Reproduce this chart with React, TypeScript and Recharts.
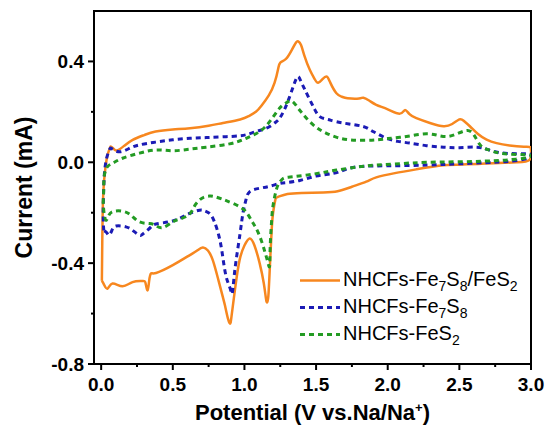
import React from 'react';
import { LineChart, Line, XAxis, YAxis, ReferenceArea, Legend, Label } from 'recharts';

// potential (V) and current (mA) read along each CV loop: anodic sweep, then cathodic sweep back
const hybridV = [0.005, 0.008, 0.015, 0.03, 0.045, 0.062, 0.07, 0.09, 0.114, 0.16, 0.22, 0.3, 0.38, 0.5, 0.62, 0.75, 0.85, 0.97, 1.03, 1.08, 1.12, 1.17, 1.21, 1.235, 1.25, 1.29, 1.33, 1.36, 1.375, 1.395, 1.42, 1.456, 1.49, 1.514, 1.545, 1.575, 1.6, 1.642, 1.68, 1.72, 1.8, 1.83, 1.87, 1.92, 2.0, 2.085, 2.12, 2.15, 2.2, 2.3, 2.39, 2.45, 2.5, 2.53, 2.575, 2.63, 2.69, 2.76, 2.85, 2.95, 2.995, 3.0, 2.99, 2.9, 2.74, 2.55, 2.39, 2.2, 2.05, 1.92, 1.85, 1.75, 1.65, 1.55, 1.4, 1.3, 1.235, 1.215, 1.2, 1.19, 1.177, 1.167, 1.158, 1.15, 1.135, 1.106, 1.07, 1.036, 1.0, 0.966, 0.935, 0.91, 0.9, 0.885, 0.865, 0.849, 0.815, 0.779, 0.745, 0.709, 0.67, 0.616, 0.5, 0.383, 0.348, 0.335, 0.324, 0.31, 0.289, 0.219, 0.149, 0.079, 0.044, 0.02, 0.005];
const hybridI = [-0.47, -0.3, -0.12, -0.02, 0.03, 0.058, 0.062, 0.052, 0.047, 0.065, 0.089, 0.108, 0.122, 0.13, 0.135, 0.145, 0.156, 0.17, 0.183, 0.2, 0.225, 0.265, 0.315, 0.37, 0.395, 0.41, 0.445, 0.475, 0.48, 0.465, 0.42, 0.367, 0.33, 0.315, 0.33, 0.34, 0.315, 0.274, 0.26, 0.254, 0.253, 0.256, 0.245, 0.228, 0.21, 0.193, 0.207, 0.192, 0.175, 0.155, 0.143, 0.152, 0.17, 0.165, 0.142, 0.112, 0.09, 0.076, 0.067, 0.062, 0.06, 0.045, 0.01, 0.0, -0.004, -0.008, -0.012, -0.028, -0.043, -0.06, -0.077, -0.097, -0.115, -0.12, -0.122, -0.126, -0.137, -0.15, -0.2, -0.27, -0.42, -0.53, -0.556, -0.54, -0.48, -0.4, -0.33, -0.302, -0.33, -0.388, -0.5, -0.61, -0.64, -0.62, -0.57, -0.534, -0.46, -0.388, -0.35, -0.338, -0.35, -0.369, -0.408, -0.439, -0.441, -0.47, -0.508, -0.48, -0.471, -0.475, -0.492, -0.481, -0.501, -0.485, -0.47];

const fe7s8V = [0.018, 0.014, 0.018, 0.025, 0.04, 0.058, 0.068, 0.09, 0.138, 0.2, 0.266, 0.38, 0.5, 0.62, 0.733, 0.85, 0.966, 1.03, 1.08, 1.13, 1.176, 1.22, 1.246, 1.28, 1.316, 1.35, 1.374, 1.395, 1.42, 1.456, 1.49, 1.526, 1.58, 1.642, 1.73, 1.829, 1.88, 1.922, 1.992, 2.07, 2.155, 2.27, 2.39, 2.5, 2.622, 2.7, 2.785, 2.9, 2.99, 3.0, 2.95, 2.85, 2.74, 2.5, 2.27, 2.0, 1.8, 1.7, 1.62, 1.5, 1.386, 1.3, 1.246, 1.176, 1.106, 1.036, 1.01, 0.99, 0.97, 0.942, 0.925, 0.914, 0.9, 0.873, 0.85, 0.826, 0.79, 0.756, 0.72, 0.686, 0.616, 0.55, 0.476, 0.383, 0.35, 0.324, 0.29, 0.266, 0.22, 0.173, 0.103, 0.075, 0.056, 0.04, 0.018];
const fe7s8I = [-0.27, -0.2, -0.1, -0.03, 0.02, 0.05, 0.056, 0.048, 0.042, 0.056, 0.069, 0.08, 0.089, 0.095, 0.098, 0.101, 0.105, 0.112, 0.122, 0.13, 0.142, 0.16, 0.175, 0.21, 0.261, 0.315, 0.34, 0.32, 0.29, 0.248, 0.21, 0.181, 0.17, 0.161, 0.152, 0.142, 0.128, 0.115, 0.095, 0.083, 0.076, 0.066, 0.06, 0.058, 0.06, 0.05, 0.038, 0.034, 0.033, 0.025, 0.012, 0.004, 0.0, -0.006, -0.011, -0.014, -0.017, -0.03, -0.044, -0.055, -0.072, -0.08, -0.084, -0.095, -0.103, -0.117, -0.15, -0.2, -0.28, -0.388, -0.47, -0.521, -0.5, -0.455, -0.38, -0.302, -0.235, -0.203, -0.192, -0.19, -0.203, -0.222, -0.236, -0.245, -0.255, -0.269, -0.285, -0.289, -0.27, -0.256, -0.253, -0.27, -0.289, -0.28, -0.27];

const fes2V = [0.014, 0.018, 0.021, 0.04, 0.079, 0.149, 0.266, 0.383, 0.5, 0.616, 0.733, 0.896, 1.013, 1.106, 1.176, 1.246, 1.29, 1.33, 1.374, 1.41, 1.456, 1.51, 1.572, 1.65, 1.736, 1.83, 1.922, 2.0, 2.085, 2.18, 2.27, 2.34, 2.41, 2.48, 2.552, 2.6, 2.645, 2.7, 2.785, 2.9, 2.99, 3.0, 2.95, 2.85, 2.74, 2.5, 2.27, 2.1, 1.922, 1.8, 1.642, 1.5, 1.34, 1.27, 1.24, 1.222, 1.2, 1.19, 1.18, 1.176, 1.165, 1.145, 1.117, 1.08, 1.047, 1.0, 0.919, 0.849, 0.79, 0.756, 0.72, 0.686, 0.65, 0.616, 0.55, 0.5, 0.429, 0.38, 0.336, 0.266, 0.208, 0.149, 0.079, 0.05, 0.033, 0.02, 0.014];
const fes2I = [-0.163, -0.1, -0.057, -0.02, -0.004, 0.016, 0.036, 0.049, 0.046, 0.052, 0.06, 0.073, 0.095, 0.122, 0.161, 0.215, 0.235, 0.243, 0.215, 0.19, 0.161, 0.135, 0.115, 0.098, 0.089, 0.087, 0.089, 0.094, 0.099, 0.107, 0.113, 0.108, 0.102, 0.112, 0.126, 0.11, 0.069, 0.05, 0.036, 0.031, 0.029, 0.024, 0.016, 0.01, 0.006, 0.002, 0.0, -0.005, -0.011, -0.018, -0.031, -0.045, -0.057, -0.064, -0.085, -0.11, -0.17, -0.229, -0.33, -0.41, -0.4, -0.36, -0.309, -0.26, -0.229, -0.19, -0.163, -0.147, -0.136, -0.134, -0.138, -0.15, -0.175, -0.206, -0.225, -0.236, -0.259, -0.25, -0.243, -0.236, -0.21, -0.194, -0.196, -0.215, -0.229, -0.2, -0.163];

const xTicks = [0, 0.25, 0.5, 0.75, 1, 1.25, 1.5, 1.75, 2, 2.25, 2.5, 2.75, 3];
const yTicks = [-0.8, -0.6, -0.4, -0.2, 0, 0.2, 0.4];

const FONT = '"Liberation Sans", Arial, sans-serif';
const ORANGE = '#F7871F';
const BLUE = '#1B1BB5';
const GREEN = '#239B23';

const zip = (vs: number[], is: number[]) => vs.map((v, k) => ({ v, i: is[k] }));

const series = [
  { key: 'hybrid', data: zip(hybridV, hybridI), color: ORANGE, dash: undefined, width: 2.5, parts: ['NHCFs-Fe', '7', 'S', '8', '/FeS', '2'] },
  { key: 'fe7s8', data: zip(fe7s8V, fe7s8I), color: BLUE, dash: '5 4', width: 3, parts: ['NHCFs-Fe', '7', 'S', '8'] },
  { key: 'fes2', data: zip(fes2V, fes2I), color: GREEN, dash: '5 4', width: 3, parts: ['NHCFs-FeS', '2'] },
];

function XTick({ x, y, payload }: any) {
  const major = Math.abs(payload.value * 2 - Math.round(payload.value * 2)) < 1e-6;
  return (
    <g>
      <line x1={x} x2={x} y1={y} y2={y + (major ? 6 : 3)} stroke="#000" strokeWidth={2} />
      {major && (
        <text x={x} y={y + 14} dy="0.71em" textAnchor="middle" fontFamily={FONT} fontWeight="bold" fontSize={19} fill="#000">
          {payload.value.toFixed(1)}
        </text>
      )}
    </g>
  );
}

function YTick({ x, y, payload }: any) {
  const major = Math.abs(Math.round(payload.value * 10)) % 4 === 0;
  return (
    <g>
      <line x1={x - (major ? 6 : 3)} x2={x} y1={y} y2={y} stroke="#000" strokeWidth={2} />
      {major && (
        <text x={x - 10} y={y} dy="0.36em" textAnchor="end" fontFamily={FONT} fontWeight="bold" fontSize={19} fill="#000">
          {payload.value.toFixed(1)}
        </text>
      )}
    </g>
  );
}

function XTitle({ viewBox }: any) {
  const cx = viewBox.x + viewBox.width / 2;
  return (
    <text x={cx} y={viewBox.y + 56} textAnchor="middle" fontFamily={FONT} fontWeight="bold" fontSize={22} fill="#000">
      Potential (V vs.Na/Na<tspan dy={-8} fontSize={13}>+</tspan><tspan dy={8}>)</tspan>
    </text>
  );
}

function YTitle({ viewBox }: any) {
  const x = viewBox.x + 32;
  const y = viewBox.y + viewBox.height / 2;
  return (
    <text x={x} y={y} transform={`rotate(-90, ${x}, ${y})`} textAnchor="middle" fontFamily={FONT} fontWeight="bold" fontSize={23} fill="#000">
      Current (mA)
    </text>
  );
}

function LegendBox() {
  return (
    <div style={{ fontFamily: FONT, fontSize: 20, lineHeight: '25px', color: '#000' }}>
      {series.map(s => (
        <div key={s.key} style={{ display: 'flex', alignItems: 'center', whiteSpace: 'nowrap' }}>
          <svg width={45} height={25}>
            <line x1={2} x2={42} y1={12.5} y2={12.5} stroke={s.color} strokeWidth={s.width} strokeDasharray={s.dash} />
          </svg>
          <span>
            {s.parts.map((p, k) => (k % 2 === 1
              ? <span key={k} style={{ fontSize: 14, position: 'relative', top: 5 }}>{p}</span>
              : <span key={k}>{p}</span>))}
          </span>
        </div>
      ))}
    </div>
  );
}

export default function App() {
  return (
    <div style={{ position: 'absolute', left: 0, top: 0, background: '#fff' }}>
      <LineChart width={546} height={434} margin={{ top: 11, right: 15, left: 0, bottom: 0 }}>
        <XAxis
          dataKey="v"
          type="number"
          domain={[-0.05, 3]}
          ticks={xTicks}
          allowDataOverflow
          height={70}
          tickSize={0}
          tickMargin={0}
          tick={<XTick />}
          axisLine={{ stroke: '#000', strokeWidth: 2 }}
        >
          <Label content={<XTitle />} />
        </XAxis>
        <YAxis
          type="number"
          domain={[-0.8, 0.6]}
          ticks={yTicks}
          allowDataOverflow
          width={94}
          tickSize={0}
          tickMargin={0}
          tick={<YTick />}
          axisLine={{ stroke: '#000', strokeWidth: 2 }}
        >
          <Label content={<YTitle />} />
        </YAxis>
        <ReferenceArea x1={-0.05} x2={3} y1={-0.8} y2={0.6} fill="none" stroke="#000" strokeWidth={2} />
        {series.map(s => (
          <Line
            key={s.key}
            data={s.data}
            dataKey="i"
            type="natural"
            stroke={s.color}
            strokeWidth={s.width}
            strokeDasharray={s.dash}
            dot={false}
            activeDot={false}
            isAnimationActive={false}
          />
        ))}
        <Legend
          layout="horizontal"
          verticalAlign="middle"
          align="center"
          content={<LegendBox />}
          wrapperStyle={{ left: 298, top: 267, width: 'auto' }}
        />
      </LineChart>
    </div>
  );
}
